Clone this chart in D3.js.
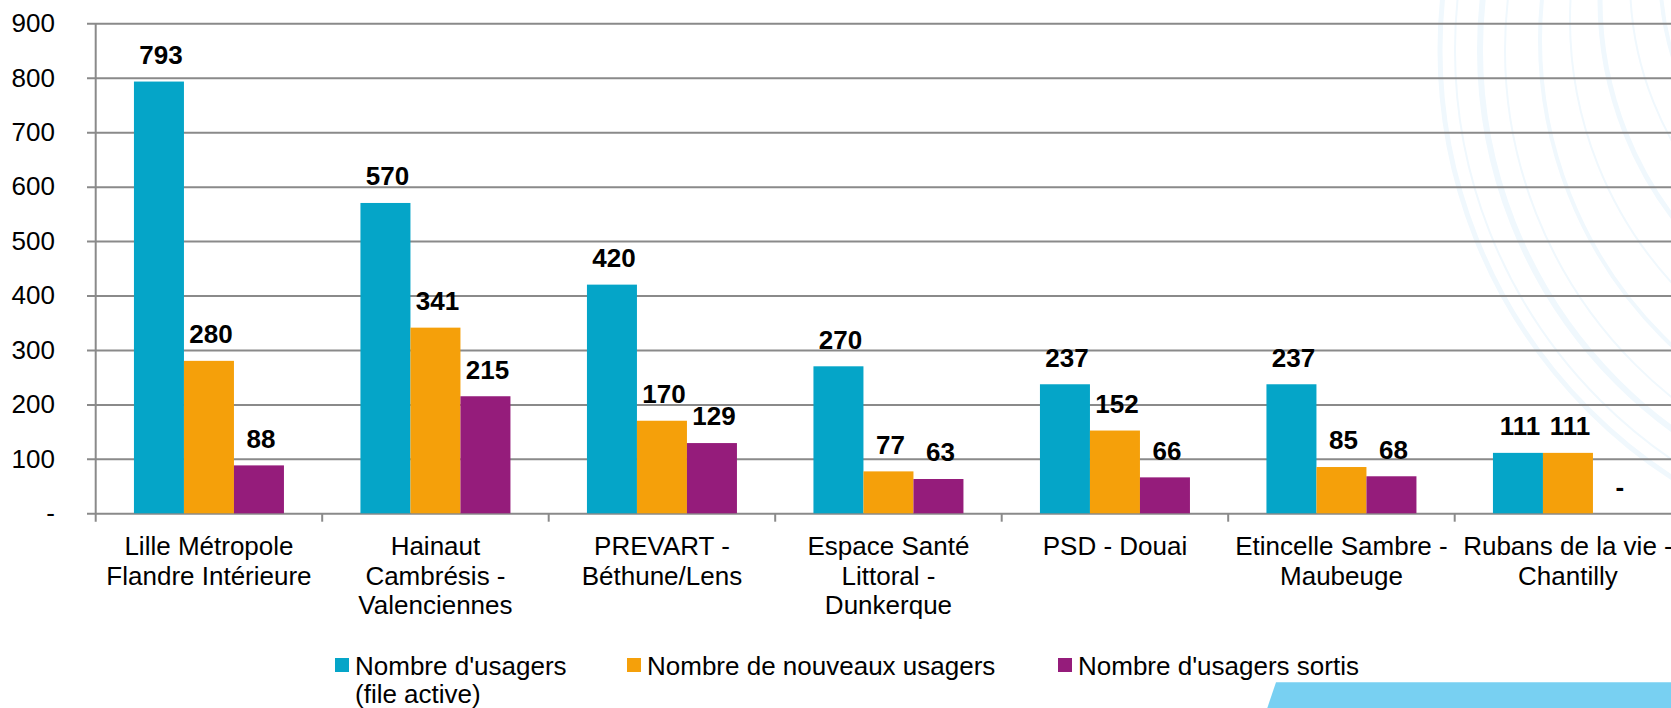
<!DOCTYPE html>
<html>
<head>
<meta charset="utf-8">
<script src="https://cdn.jsdelivr.net/npm/d3@7"></script>
<style>
  body { margin: 0; background: #fff; }
  text { font-family: "Liberation Sans", Arial, sans-serif; fill: #000; }
</style>
</head>
<body>
<div id="chart"></div>
<script>
var categories = [
  'Lille Métropole\nFlandre Intérieure',
  'Hainaut\nCambrésis -\nValenciennes',
  'PREVART -\nBéthune/Lens',
  'Espace Santé\nLittoral -\nDunkerque',
  'PSD - Douai',
  'Etincelle Sambre -\nMaubeuge',
  'Rubans de la vie -\nChantilly'
];
var seriesNames = ["Nombre d'usagers\n(file active)", 'Nombre de nouveaux usagers', "Nombre d'usagers sortis"];
var seriesColors = ['#05a5c8', '#f5a00a', '#951c7b'];
var usagers = [793, 570, 420, 270, 237, 237, 111];
var nouveaux = [280, 341, 170, 77, 152, 85, 111];
var sortis = [88, 215, 129, 63, 66, 68, 0];
var yTicks = [0, 100, 200, 300, 400, 500, 600, 700, 800, 900];

var W = 1671, H = 708;
var left = 95.7, baseY = 513.3, topY = 23.3, catStep = 226.5;

var svg = d3.select('#chart').append('svg')
  .attr('width', W)
  .attr('height', H);

_drawBackground(svg);

var x = d3.scaleBand()
  .domain(d3.range(categories.length))
  .range([left, left + catStep * categories.length])
  .padding(0);

var xSub = d3.scaleBand()
  .domain(d3.range(seriesNames.length))
  .range([0, x.bandwidth()])
  .paddingInner(0)
  .paddingOuter(0.765);

var y = d3.scaleLinear()
  .domain([0, 900])
  .range([baseY, topY]);

// gridlines + y axis
var yAxis = d3.axisLeft(y)
  .tickValues(yTicks)
  .tickSize(-(W - left))
  .tickPadding(40)
  .tickFormat(function (d) { return d === 0 ? '-' : d; });

var gy = svg.append('g')
  .attr('transform', 'translate(' + left + ',0)')
  .call(yAxis);
gy.select('.domain').remove();
gy.selectAll('.tick line')
  .attr('x1', -8.7)
  .style('stroke', '#8a8a8a')
  .style('stroke-width', 2);
gy.selectAll('.tick text')
  .attr('x', -40.7)
  .style('font-size', '26px')
  .style('font-family', '"Liberation Sans", Arial, sans-serif')
  .style('fill', '#000');

// y axis line
svg.append('line')
  .attr('x1', left).attr('x2', left)
  .attr('y1', y(900)).attr('y2', baseY + 8.4)
  .style('stroke', '#8a8a8a')
  .style('stroke-width', 2);

// x axis ticks at category boundaries
svg.selectAll('.xtick')
  .data(d3.range(1, categories.length + 1))
  .enter()
  .append('line')
  .attr('class', 'xtick')
  .attr('x1', function (d) { return left + d * x.step(); })
  .attr('x2', function (d) { return left + d * x.step(); })
  .attr('y1', baseY)
  .attr('y2', baseY + 8.4)
  .style('stroke', '#8a8a8a')
  .style('stroke-width', 2);

// bars
var rows = categories.map(function (c, i) {
  return [usagers[i], nouveaux[i], sortis[i]];
});

var groups = svg.selectAll('.cat')
  .data(rows)
  .enter()
  .append('g')
  .attr('class', 'cat')
  .attr('transform', function (d, i) { return 'translate(' + x(i) + ',0)'; });

groups.selectAll('rect')
  .data(function (d) { return d; })
  .enter()
  .append('rect')
  .attr('x', function (d, j) { return xSub(j); })
  .attr('y', function (d) { return y(d); })
  .attr('width', xSub.bandwidth())
  .attr('height', function (d) { return baseY - y(d); })
  .style('fill', function (d, j) { return seriesColors[j]; });

groups.selectAll('.val')
  .data(function (d) { return d; })
  .enter()
  .append('text')
  .attr('class', 'val')
  .attr('x', function (d, j) { return xSub(j) + xSub.bandwidth() / 2 + 2; })
  .attr('y', function (d) { return y(d) - 17.6; })
  .attr('text-anchor', 'middle')
  .style('font-size', '26px')
  .style('font-weight', 'bold')
  .text(function (d) { return d === 0 ? '-' : d; });

// category labels
var catLabels = svg.selectAll('.catlabel')
  .data(categories)
  .enter()
  .append('text')
  .attr('class', 'catlabel')
  .attr('text-anchor', 'middle')
  .style('font-size', '26px')
  .attr('transform', function (d, i) {
    return 'translate(' + (x(i) + x.bandwidth() / 2) + ',' + (baseY + 41.7) + ')';
  });

catLabels.selectAll('tspan')
  .data(function (d) { return d.split('\n'); })
  .enter()
  .append('tspan')
  .attr('x', 0)
  .attr('y', function (d, k) { return k * 29.6; })
  .text(function (d) { return d; });

_drawLegend(svg);

function _drawLegend (svg) {
  var legendX = [335, 627, 1058];
  var items = svg.selectAll('.legend')
    .data(seriesNames)
    .enter()
    .append('g')
    .attr('class', 'legend')
    .attr('transform', function (d, i) { return 'translate(' + legendX[i] + ',658)'; });

  items.append('rect')
    .attr('width', 14)
    .attr('height', 14)
    .style('fill', function (d, i) { return seriesColors[i]; });

  items.append('text')
    .attr('x', 20)
    .attr('y', 17)
    .style('font-size', '26px')
    .selectAll('tspan')
    .data(function (d) { return d.split('\n'); })
    .enter()
    .append('tspan')
    .attr('x', 20)
    .attr('y', function (d, k) { return 17 + k * 28; })
    .text(function (d) { return d; });
}

function _drawBackground (svg) {
  var bg = svg.append('g').attr('class', 'bg');
  var arcs = [
    {cx: 1950, cy: 50, r: 510, w: 5},
    {cx: 1950, cy: 50, r: 495, w: 2},
    {cx: 1950, cy: 50, r: 470, w: 6},
    {cx: 1950, cy: 50, r: 445, w: 2},
    {cx: 1960, cy: 40, r: 420, w: 4},
    {cx: 1960, cy: 20, r: 390, w: 2},
    {cx: 1960, cy: 0, r: 360, w: 5},
    {cx: 1960, cy: -20, r: 330, w: 2},
    {cx: 1960, cy: -30, r: 300, w: 4}
  ];
  bg.selectAll('circle')
    .data(arcs)
    .enter()
    .append('circle')
    .attr('cx', function (d) { return d.cx; })
    .attr('cy', function (d) { return d.cy; })
    .attr('r', function (d) { return d.r; })
    .style('fill', 'none')
    .style('stroke', '#f0f8fd')
    .style('stroke-width', function (d) { return d.w; });

  var path = d3.path();
  path.moveTo(1276, 682.3);
  path.lineTo(W, 682.3);
  path.lineTo(W, H);
  path.lineTo(1267.3, H);
  path.closePath();
  bg.append('path')
    .attr('d', path.toString())
    .style('fill', '#78d0f2');
}
</script>
</body>
</html>
